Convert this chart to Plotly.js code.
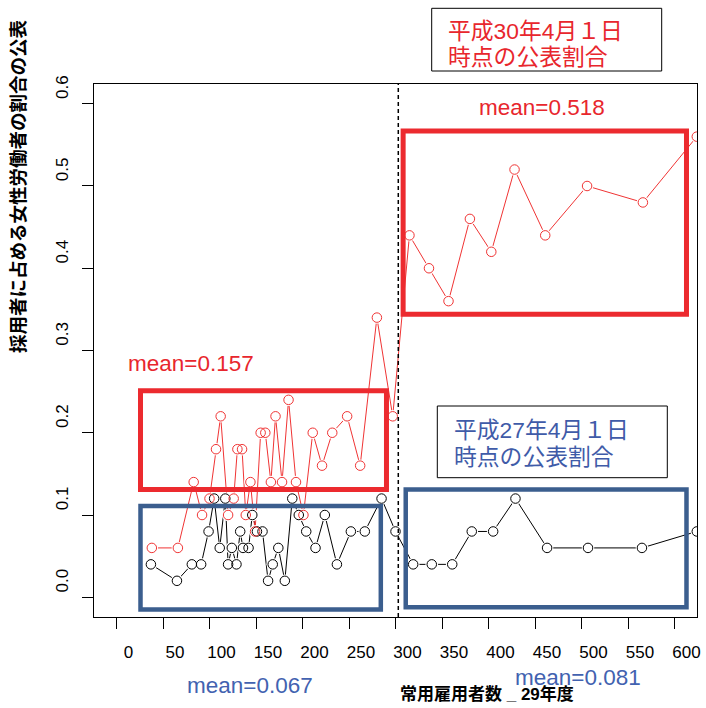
<!DOCTYPE html>
<html>
<head>
<meta charset="utf-8">
<script src="https://cdn.plot.ly/plotly-3.0.1.min.js"></script>
<style>html,body{margin:0;padding:0;background:#fff;}#chart{width:706px;height:708px;}</style>
</head>
<body>
<div id="chart"></div>
<script>
// 平成27年4月1日時点 (black)
const x27 = [37, 65, 81, 91, 99, 105, 111, 117, 120, 124, 129, 133, 136, 142, 146, 151, 157, 163, 168, 174, 181, 189, 196, 204, 214, 224, 237, 252, 267, 285, 300,
             319, 339, 361, 382, 405, 429, 463, 507, 565, 624];
const y27 = [0.04, 0.02, 0.04, 0.04, 0.08, 0.12, 0.06, 0.12, 0.04, 0.06, 0.04, 0.08, 0.06, 0.06, 0.10, 0.08, 0.08, 0.02, 0.04, 0.06, 0.02, 0.12, 0.10, 0.08, 0.06, 0.10, 0.04, 0.08, 0.08, 0.12, 0.08,
             0.04, 0.04, 0.04, 0.08, 0.08, 0.12, 0.06, 0.06, 0.06, 0.08];
// 平成30年4月1日時点 (red)
const x30 = [38, 66, 83, 92, 100, 107, 112, 120, 126, 130, 135, 139, 144, 149, 155, 160, 166, 171, 178, 185, 193, 201, 211, 221, 232, 248, 262, 280, 297,
             315, 336, 357, 380, 403, 428, 461, 506, 566, 624];
const y30 = [0.06, 0.06, 0.14, 0.10, 0.12, 0.18, 0.22, 0.10, 0.12, 0.18, 0.18, 0.10, 0.14, 0.08, 0.20, 0.20, 0.14, 0.22, 0.14, 0.24, 0.14, 0.10, 0.20, 0.16, 0.20, 0.22, 0.16, 0.34, 0.22,
             0.44, 0.40, 0.36, 0.46, 0.42, 0.52, 0.44, 0.50, 0.48, 0.56];
const xTicks = [0, 50, 100, 150, 200, 250, 300, 350, 400, 450, 500, 550, 600];
const yTicks = [0.0, 0.1, 0.2, 0.3, 0.4, 0.5, 0.6];
const yTickText = ['0.0', '0.1', '0.2', '0.3', '0.4', '0.5', '0.6'];
const threshold = 303;
const meanTexts = ['mean=0.157', 'mean=0.518', 'mean=0.067', 'mean=0.081'];
const box30 = ['平成30年4月１日', '時点の公表割合'];
const box27 = ['平成27年4月１日', '時点の公表割合'];
const xTitle = '常用雇用者数 _ 29年度';
const yTitle = '採用者に占める女性労働者の割合の公表';

const RED = '#f03434';
const FONT = 'Liberation Sans, Arial, Noto Sans CJK JP, sans-serif';
const JFONT = 'Liberation Sans, Noto Sans CJK JP, sans-serif';

function lineTrace(x, y, c) {
  return {x: x, y: y, type: 'scatter', mode: 'lines', line: {color: c, width: 1}, hoverinfo: 'skip', showlegend: false};
}
function gapTrace(x, y) {
  return {x: x, y: y, type: 'scatter', mode: 'markers', marker: {symbol: 'circle', size: 12.5, color: '#ffffff', line: {width: 0}}, hoverinfo: 'skip', showlegend: false};
}
function ptTrace(x, y, c) {
  return {x: x, y: y, type: 'scatter', mode: 'markers', marker: {symbol: 'circle-open', size: 9.5, color: c, line: {color: c, width: 1}}, showlegend: false};
}

const data = [
  lineTrace(x27, y27, '#000000'),
  lineTrace(x30, y30, RED),
  gapTrace(x27, y27),
  gapTrace(x30, y30),
  ptTrace(x27, y27, '#000000'),
  ptTrace(x30, y30, RED)
];

function px2x(px) { return (px - 94) / 603; }
function px2y(py) { return (617 - py) / 533; }

const redRect = '#ec2a2f', blueRect = '#3b5e8e';
const shapes = [
  {type: 'rect', xref: 'x', yref: 'y', x0: 25.8, x1: 290.3, y0: 0.131, y1: 0.251, line: {color: redRect, width: 5}},
  {type: 'rect', xref: 'x', yref: 'y', x0: 25.8, x1: 284.2, y0: -0.015, y1: 0.111, line: {color: blueRect, width: 4.5}},
  {type: 'rect', xref: 'x', yref: 'y', x0: 308.2, x1: 612.9, y0: 0.344, y1: 0.567, line: {color: redRect, width: 5}},
  {type: 'rect', xref: 'x', yref: 'y', x0: 311, x1: 612.9, y0: -0.012, y1: 0.131, line: {color: blueRect, width: 4.5}},
  {type: 'line', xref: 'x', yref: 'paper', x0: threshold, x1: threshold, y0: 0, y1: 1, line: {color: '#000', width: 1.5, dash: '4px,3px'}},
  {type: 'rect', xref: 'paper', yref: 'paper', x0: px2x(431.7), x1: px2x(661.7), y0: px2y(71), y1: px2y(8.3), line: {color: '#000', width: 1}, fillcolor: '#fff'},
  {type: 'rect', xref: 'paper', yref: 'paper', x0: px2x(437.3), x1: px2x(667.3), y0: px2y(477.7), y1: px2y(406), line: {color: '#000', width: 1}, fillcolor: '#fff'}
];

function ann(text, px, py, color, size, opts) {
  return Object.assign({text: text, xref: 'paper', yref: 'paper', x: px2x(px), y: px2y(py), showarrow: false,
    xanchor: 'center', yanchor: 'middle', font: {family: JFONT, size: size, color: color}}, opts || {});
}
const redTxt = '#e8262d', blueTxt = '#4262b0', blueBox = '#3f5ba8';
const annotations = [
  ann(meanTexts[0], 191, 363, redTxt, 22.5),
  ann(meanTexts[1], 542, 107, redTxt, 22.5),
  ann(meanTexts[2], 250, 686, blueTxt, 22.5),
  ann(meanTexts[3], 578, 677, blueTxt, 22.5),
  ann(box30[0], 446, 31, redTxt, 22.8, {xanchor: 'left'}),
  ann(box30[1], 446, 57, redTxt, 22.8, {xanchor: 'left'}),
  ann(box27[0], 451.5, 430, blueBox, 22.8, {xanchor: 'left'}),
  ann(box27[1], 451.5, 457, blueBox, 22.8, {xanchor: 'left'}),
  ann('<b>' + yTitle + '</b>', 19, 186, '#000', 18.5, {textangle: -90}),
  ann('<b>' + xTitle + '</b>', 487, 694, '#000', 17)
];

const layout = {
  width: 706, height: 708,
  margin: {l: 94, r: 9, t: 84, b: 91, pad: 0},
  paper_bgcolor: '#fff', plot_bgcolor: '#fff',
  showlegend: false,
  xaxis: {
    range: [-24.2, 624.2], tickmode: 'array', tickvals: xTicks, ticktext: xTicks.map(String),
    ticks: 'outside', ticklen: 11, tickwidth: 1, tickcolor: '#000',
    showline: true, linecolor: '#000', linewidth: 1, mirror: true,
    showgrid: false, zeroline: false, tickfont: {family: FONT, size: 17, color: '#000'},
    ticklabelshift: 12, ticklabelstandoff: 9
  },
  yaxis: {
    range: [-0.024, 0.624], tickmode: 'array', tickvals: yTicks, ticktext: yTickText, tickangle: -90,
    ticks: 'outside', ticklen: 11, tickwidth: 1, tickcolor: '#000',
    showline: true, linecolor: '#000', linewidth: 1, mirror: true,
    showgrid: false, zeroline: false, tickfont: {family: FONT, size: 17, color: '#000'},
    ticklabelshift: -14, ticklabelstandoff: 7
  },
  shapes: shapes,
  annotations: annotations
};

Plotly.newPlot('chart', data, layout, {displayModeBar: false, staticPlot: true});
</script>
</body>
</html>
